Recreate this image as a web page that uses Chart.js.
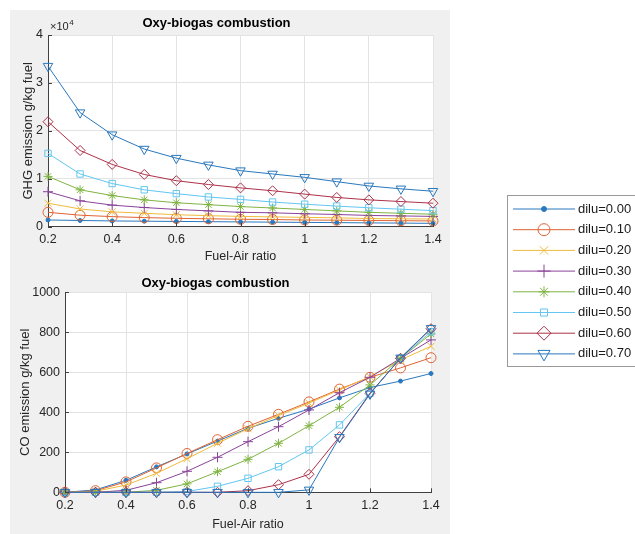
<!DOCTYPE html>
<html><head><meta charset="utf-8">
<script src="https://cdn.jsdelivr.net/npm/chart.js"></script>
<style>
html,body{margin:0;padding:0;background:#fff;width:635px;height:534px;overflow:hidden;}
#panel{position:absolute;left:10px;top:10px;width:440px;height:524px;background:#f0f0f0;}
canvas{position:absolute;}
#c1{left:0;top:0;} #c2{left:0;top:262px;} #c3{left:495px;top:180px;}
</style></head><body>
<div id="panel"></div>
<canvas id="c1" width="450" height="270"></canvas>
<canvas id="c2" width="450" height="272"></canvas>
<canvas id="c3" width="140" height="200"></canvas>
<script>
// ---------- data ----------
const fuelAirRatio = [0.2,0.3,0.4,0.5,0.6,0.7,0.8,0.9,1.0,1.1,1.2,1.3,1.4];
const diluLabels = ['dilu=0.00','dilu=0.10','dilu=0.20','dilu=0.30','dilu=0.40','dilu=0.50','dilu=0.60','dilu=0.70'];
const xTickValues = [0.2,0.4,0.6,0.8,1.0,1.2,1.4];
const ghgTickValues = [0,10000,20000,30000,40000];   // shown as x10^4
const coTickValues = [0,200,400,600,800,1000];

// GHG emission g/kg fuel
const ghgDilu000 = [1400,1300,1200,1150,1100,1050,1000,950,900,850,800,750,700];
const ghgDilu010 = [3000,2400,2100,1900,1750,1650,1550,1500,1400,1350,1300,1250,1200];
const ghgDilu020 = [4900,3700,3100,2800,2500,2300,2150,2050,1950,1850,1700,1650,1600];
const ghgDilu030 = [7300,5400,4500,4000,3600,3300,3000,2900,2700,2550,2350,2250,2150];
const ghgDilu040 = [10500,7700,6500,5600,5000,4600,4200,3900,3600,3300,3000,2800,2600];
const ghgDilu050 = [15300,11000,9000,7700,6900,6200,5700,5150,4700,4300,3950,3650,3350];
const ghgDilu060 = [21900,15900,13000,10900,9600,8800,8100,7500,6800,6100,5600,5250,4900];
const ghgDilu070 = [33500,23800,19200,16200,14300,12900,11700,11000,10300,9400,8500,7900,7400];

// CO emission g/kg fuel
const coDilu000 = [0,12,60,127,192,256,320,370,416,472,524,556,594];
const coDilu010 = [0,8,52,122,194,263,330,390,452,516,575,622,673];
const coDilu020 = [0,5,36,95,168,245,318,384,446,512,578,662,730];
const coDilu030 = [0,0,10,48,105,175,253,328,412,498,575,670,762];
const coDilu040 = [0,0,0,10,42,103,165,245,333,425,537,670,792];
const coDilu050 = [0,0,0,0,4,30,70,128,212,337,495,670,803];
const coDilu060 = [0,0,0,0,0,0,8,38,90,278,495,670,818];
const coDilu070 = [0,0,0,0,0,0,0,0,12,275,492,672,820];

// ---------- styles ----------
const FONT = "'Liberation Sans', Arial, Helvetica, sans-serif";
const seriesStyle = [
  {color:'#2a78bd', pointStyle:'circle',   radius:2,   fill:true,  legendRadius:2.5},
  {color:'#df6433', pointStyle:'circle',   radius:5,   legendRadius:6},
  {color:'#efbb3c', pointStyle:'crossRot', radius:5,   legendRadius:6},
  {color:'#8a4399', pointStyle:'cross',    radius:5,   legendRadius:6.5},
  {color:'#80b443', pointStyle:'star',     radius:4.5, legendRadius:5.5},
  {color:'#62c6f0', pointStyle:'rect',     radius:4.5, legendRadius:5},
  {color:'#ad3149', pointStyle:'rectRot',  radius:5,   legendRadius:7},
  {color:'#2a78bd', pointStyle:'triangle', radius:5.5, rotation:180, legendRadius:7}
];

function buildDatasets(seriesList){
  return seriesList.map((vals,i)=>{
    const st = seriesStyle[i];
    return {
      label: diluLabels[i],
      data: vals ? fuelAirRatio.map((x,j)=>({x:x, y:vals[j]})) : [],
      borderColor: st.color,
      backgroundColor: st.color,
      borderWidth: 1,
      pointStyle: st.pointStyle,
      pointRadius: st.radius,
      pointRotation: st.rotation || 0,
      pointBorderColor: st.color,
      pointBackgroundColor: st.fill ? st.color : 'rgba(0,0,0,0)',
      pointBorderWidth: 1,
      legendRadius: st.legendRadius,
      tension: 0,
      clip: false,
      order: 7 - i
    };
  });
}

const whiteAreaPlugin = {
  id:'whiteArea',
  beforeDraw(chart){
    const a = chart.chartArea, ctx = chart.ctx;
    ctx.save(); ctx.fillStyle='#ffffff';
    ctx.fillRect(a.left, a.top, a.right-a.left, a.bottom-a.top);
    ctx.restore();
  }
};
const inwardTicksPlugin = {
  id:'inwardTicks',
  afterDatasetsDraw(chart){
    const a = chart.chartArea, ctx = chart.ctx;
    const xs = chart.scales.x, ys = chart.scales.y;
    ctx.save(); ctx.strokeStyle='#404040'; ctx.lineWidth=1;
    ctx.beginPath();
    xs.ticks.forEach(t=>{ const px=Math.round(xs.getPixelForValue(t.value))+0.5; ctx.moveTo(px,a.bottom); ctx.lineTo(px,a.bottom-4); });
    ys.ticks.forEach(t=>{ const py=Math.round(ys.getPixelForValue(t.value))+0.5; ctx.moveTo(a.left,py); ctx.lineTo(a.left+4,py); });
    ctx.stroke(); ctx.restore();
  }
};
const exponentPlugin = {
  id:'exponent',
  afterDraw(chart, args, opts){
    if(!opts || !opts.show) return;
    const a = chart.chartArea, ctx = chart.ctx;
    ctx.save(); ctx.fillStyle='#262626'; ctx.textBaseline='alphabetic'; ctx.textAlign='left';
    ctx.font = '11px ' + FONT;
    const base = '\u00d710';
    ctx.fillText(base, a.left+2, a.top-5);
    const w = ctx.measureText(base).width;
    ctx.font = '8px ' + FONT;
    ctx.fillText('4', a.left+2+w+0.5, a.top-10);
    ctx.restore();
  }
};

function makeOptions(p){
  return {
    responsive:false, animation:false, events:[],
    layout:{padding:{left:0,right:p.padRight,top:0,bottom:0}},
    plugins:{
      legend:{display:false}, tooltip:{enabled:false},
      exponent:{show:p.exponent},
      title:{display:true, text:'Oxy-biogas combustion', color:'#000',
        font:{family:FONT,size:13,weight:'bold',lineHeight:1.2},
        padding:{top:p.titleTop,bottom:p.titleBottom}}
    },
    scales:{
      x:{type:'linear', min:0.2, max:1.4,
        afterBuildTicks:s=>{ s.ticks = xTickValues.map(v=>({value:v})); },
        afterFit:s=>{ s.height = p.xHeight; },
        grid:{color:'#e3e3e3', drawTicks:false, lineWidth:1},
        border:{display:true, color:'#404040', width:1},
        ticks:{padding:p.xTickPad, color:'#262626', maxRotation:0, autoSkip:false,
          font:{family:FONT,size:12.5},
          callback:v=>String(Number(Number(v).toFixed(1)))},
        title:{display:true, text:'Fuel-Air ratio', color:'#262626',
          font:{family:FONT,size:12.5,lineHeight:1}, padding:{top:0,bottom:p.xTitlePad}}
      },
      y:{type:'linear', min:p.yMin, max:p.yMax,
        afterBuildTicks:s=>{ s.ticks = p.yTicks.map(v=>({value:v})); },
        afterFit:s=>{ s.width = p.yWidth; },
        grid:{color:'#e3e3e3', drawTicks:false, lineWidth:1},
        border:{display:true, color:'#404040', width:1},
        ticks:{padding:p.yTickPad, color:'#262626', autoSkip:false,
          font:{family:FONT,size:12.5},
          callback:v=>String(v/p.yDiv)},
        title:{display:true, text:p.yTitle, color:'#262626',
          font:{family:FONT,size:13,lineHeight:1}, padding:{top:p.yTitlePad,bottom:0}}
      }
    }
  };
}

new Chart(document.getElementById('c1'), {
  type:'line',
  data:{datasets:buildDatasets([ghgDilu000,ghgDilu010,ghgDilu020,ghgDilu030,ghgDilu040,ghgDilu050,ghgDilu060,ghgDilu070])},
  options:makeOptions({padRight:17, titleTop:16, titleBottom:3.4, xHeight:43.3, xTickPad:5.5, xTitlePad:6.75,
    yWidth:48, yTickPad:5, yTitlePad:21.5, yMin:0, yMax:40000, yTicks:ghgTickValues, yDiv:10000,
    yTitle:'GHG emission g/kg fuel', exponent:true}),
  plugins:[whiteAreaPlugin, inwardTicksPlugin, exponentPlugin]
});

new Chart(document.getElementById('c2'), {
  type:'line',
  data:{datasets:buildDatasets([coDilu000,coDilu010,coDilu020,coDilu030,coDilu040,coDilu050,coDilu060,coDilu070])},
  options:makeOptions({padRight:19, titleTop:13.5, titleBottom:1.2, xHeight:41.7, xTickPad:6, xTitlePad:2.75,
    yWidth:65, yTickPad:5, yTitlePad:18.5, yMin:0, yMax:1000, yTicks:coTickValues, yDiv:1,
    yTitle:'CO emission g/kg fuel', exponent:false}),
  plugins:[whiteAreaPlugin, inwardTicksPlugin, exponentPlugin]
});

// ---------- legend (MATLAB style: line + marker + text) ----------
const matlabLegendPlugin = {
  id:'matlabLegend',
  afterDraw(chart, args, L){
    const ctx = chart.ctx, ds = chart.data.datasets;
    ctx.save();
    ctx.fillStyle='#ffffff'; ctx.strokeStyle='#9a9a9a'; ctx.lineWidth=1;
    ctx.fillRect(L.left, L.top, L.width, L.height);
    ctx.strokeRect(L.left, L.top, L.width, L.height);
    ds.forEach((d,i)=>{
      const y = L.firstRow + i*L.rowGap;
      ctx.strokeStyle = d.borderColor; ctx.lineWidth = 1;
      ctx.beginPath(); ctx.moveTo(L.lineX0, y); ctx.lineTo(L.lineX1, y); ctx.stroke();
      ctx.fillStyle = d.pointBackgroundColor;
      Chart.helpers.drawPoint(ctx, {pointStyle:d.pointStyle, rotation:d.pointRotation, radius:d.legendRadius, borderWidth:1}, L.markerX, y);
      ctx.fillStyle = '#1a1a1a'; ctx.font = '13px ' + FONT; ctx.textBaseline='middle'; ctx.textAlign='left';
      ctx.fillText(d.label, L.textX, y);
    });
    ctx.restore();
  }
};
new Chart(document.getElementById('c3'), {
  type:'line',
  data:{datasets:buildDatasets([null,null,null,null,null,null,null,null])},
  options:{responsive:false, animation:false, events:[],
    plugins:{legend:{display:false}, tooltip:{enabled:false},
      matlabLegend:{left:12.5, top:15.5, width:200, height:171, firstRow:29, rowGap:20.7,
        lineX0:18, lineX1:80, markerX:49, textX:83}},
    scales:{x:{display:false}, y:{display:false}}},
  plugins:[matlabLegendPlugin]
});
</script>
</body></html>
